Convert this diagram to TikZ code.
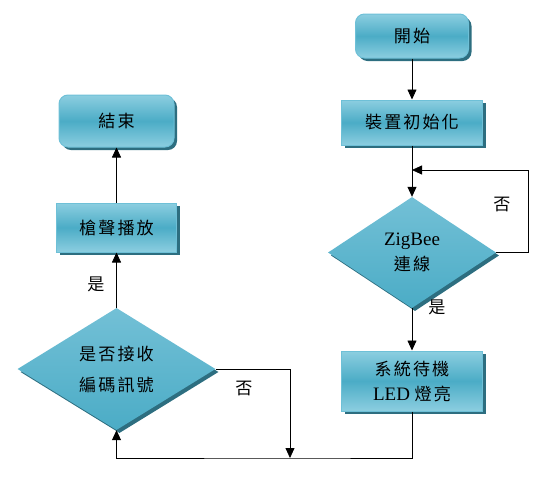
\documentclass[tikz,border=0pt]{standalone}
\usepackage{fontspec}
\setmainfont{Liberation Serif}
\newfontfamily\cjk[Scale=0.9,LetterSpace=12]{Noto Sans CJK TC}
\usepackage{tikz}
\usetikzlibrary{shapes.geometric,shadows,arrows.meta}
\usepackage{xcolor}
\definecolor{aqualight}{RGB}{140,206,224}
\definecolor{aqua}{RGB}{75,172,198}
\definecolor{aquatop}{RGB}{115,192,214}
\definecolor{aquaedge}{RGB}{110,192,215}
\definecolor{aquadark}{RGB}{45,110,128}
\tikzset{%
    procbox/.style={%
        rectangle, draw=aquaedge, line width=1pt,
        top color=aqualight, bottom color=aqualight, middle color=aqua,
        minimum width=141pt, minimum height=45pt, align=center,
        font=\fontsize{19}{25}\selectfont,
        drop shadow={shadow xshift=3pt, shadow yshift=-3pt, fill=aquadark, opacity=1}
    },
    roundbox/.style={procbox, rounded corners=9pt, minimum width=113pt, minimum height=44pt},
    decision/.style={%
        diamond, draw=none, inner sep=0pt, align=center,
        top color=aquatop, bottom color=aqua,
        font=\fontsize{19}{25}\selectfont,
        drop shadow={shadow xshift=3pt, shadow yshift=-3pt, fill=aquadark, opacity=1}
    },
    arr/.style={-{Triangle[length=10pt,width=9pt]}, line width=0.8pt},
    lbl/.style={font=\fontsize{19}{22}\selectfont\cjk}
}

\begin{document}
\begin{tikzpicture}[x=1pt,y=-1pt]
    \useasboundingbox (0,0) rectangle (546,488);
    % right column
    \node[roundbox] (start) at (412,36) {\cjk 開始};
    \node[procbox] (init) at (412,122.5) {\cjk 裝置初始化};
    \node[decision, minimum width=168pt, minimum height=111pt] (zig) at (412,252.5) {ZigBee\\{\cjk 連線}};
    \node[procbox, minimum height=60pt] (standby) at (412,381) {{\cjk 系統待機}\\LED {\cjk 燈亮}};
    % left column
    \node[decision, minimum width=198pt, minimum height=122pt] (recv) at (116.5,369) {{\cjk 是否接收}\\[6pt]{\cjk 編碼訊號}};
    \node[procbox, minimum width=120pt, minimum height=49pt] (gun) at (116.5,227.5) {\cjk 槍聲播放};
    \node[roundbox, minimum width=115pt, minimum height=52pt] (end) at (116.5,121) {\cjk 結束};
    \coordinate (loopR) at (528,170);
    \coordinate (loopL) at (412,170);
    \coordinate (join) at (290,458);
    \draw[arr] (start) -- (init);
    \draw[arr] (init) -- (zig);
    \draw[arr] (zig.east) -| (loopR) -- (loopL);
    \draw[arr] (zig) -- (standby);
    \draw[arr] (standby.south) |- (join) -| (recv.south);
    \draw[arr] (recv.east) -| (join);
    \draw[arr] (recv) -- (gun);
    \draw[arr] (gun) -- (end);
    \node[lbl] (no1) at (502,204) {否};
    \node[lbl] (yes1) at (437,307) {是};
    \node[lbl] (no2) at (244,388) {否};
    \node[lbl] (yes2) at (96,284) {是};
\end{tikzpicture}
\end{document}
